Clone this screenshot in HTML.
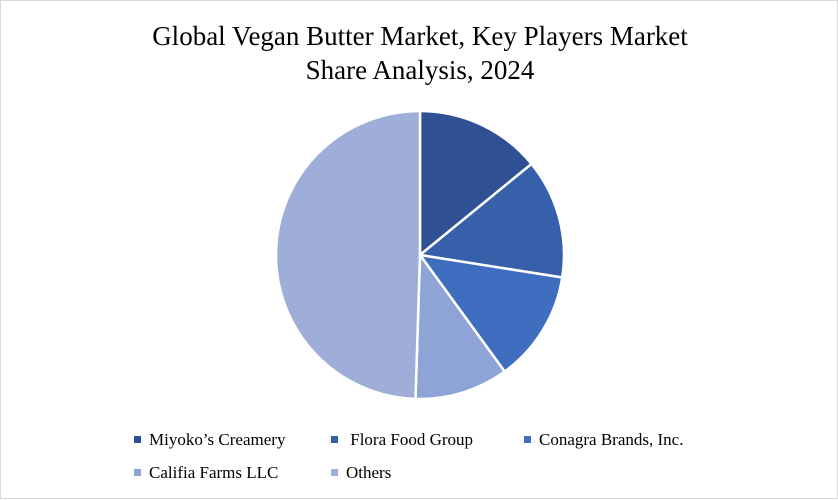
<!DOCTYPE html>
<html><head><meta charset="utf-8"><style>
html,body{margin:0;padding:0;background:#fff}
#wrap{position:relative;width:836px;height:497px;border:1px solid #d9d9d9;background:#fff;font-family:"Liberation Serif",serif}
.title{position:absolute;left:0;width:838px;text-align:center;top:18px;font-size:27px;line-height:34px;color:#000}
.leg{position:absolute;font-size:17px;color:#000;white-space:nowrap}
.sw{display:inline-block;width:7px;height:7px;margin-right:8px;vertical-align:middle;position:relative;top:-2px}
</style></head><body>
<div id="wrap">
<div class="title">Global Vegan Butter Market, Key Players Market<br>Share Analysis, 2024</div>
<svg id="pie" width="838" height="499" style="position:absolute;left:0;top:0"></svg>
<div id="legend"></div>
</div>
<script>
const categories=["Miyoko’s Creamery","Flora Food Group","Conagra Brands, Inc.","Califia Farms LLC","Others"];
const values=[14.1,13.4,12.5,10.5,49.5];
const colors=["#2f5193","#3760aa","#3f6dc0","#8ea4d6","#9eaed8"];
const svg=document.getElementById('pie');
const cx=419,cy=254,r=144;
const total=values.reduce((a,b)=>a+b,0);
let a0=0;
values.forEach((v,i)=>{
  const a1=a0+v/total*2*Math.PI;
  const x0=cx+r*Math.sin(a0),y0=cy-r*Math.cos(a0),x1=cx+r*Math.sin(a1),y1=cy-r*Math.cos(a1);
  const p=document.createElementNS('http://www.w3.org/2000/svg','path');
  p.setAttribute('d',`M${cx},${cy}L${x0},${y0}A${r},${r} 0 ${a1-a0>Math.PI?1:0} 1 ${x1},${y1}Z`);
  p.setAttribute('fill',colors[i]);p.setAttribute('stroke','#fff');p.setAttribute('stroke-width','2.5');
  
  
  svg.appendChild(p);a0=a1;
});
const pos=[[133,429],[330,429],[523,429],[133,462],[330,462]];
const leg=document.getElementById('legend');
categories.forEach((c,i)=>{
  const d=document.createElement('div');d.className='leg';
  d.style.left=pos[i][0]+'px';d.style.top=pos[i][1]+'px';
  d.innerHTML=`<span class="sw" style="background:${colors[i]}"></span>${i==1?'&nbsp;':''}${c}`;
  
  
  leg.appendChild(d);
});
</script>
</body></html>
